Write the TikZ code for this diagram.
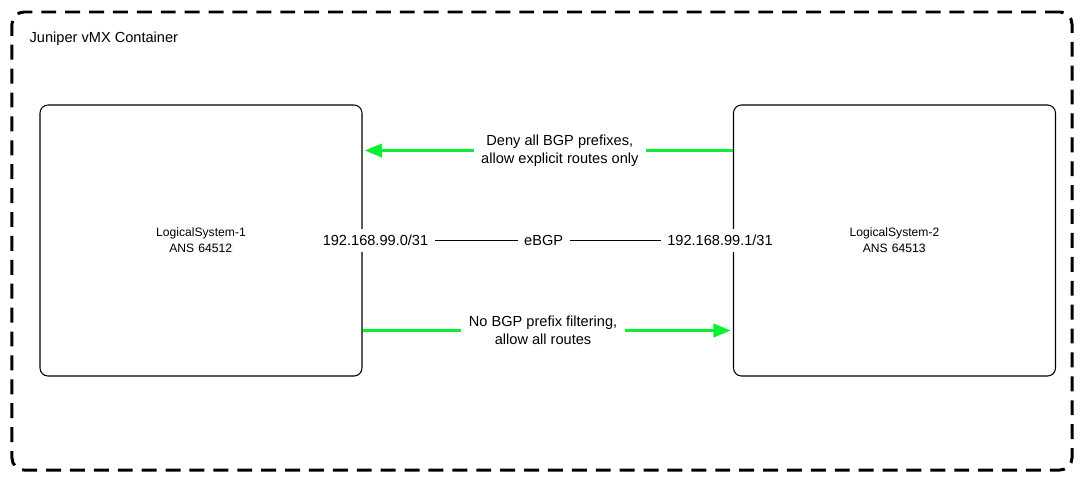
\documentclass[tikz,border=0pt]{standalone}
\usepackage{fontspec}
\setmainfont{Liberation Sans}
\usepackage{tikz}
\usetikzlibrary{arrows.meta, positioning, calc}
\usepackage{xcolor}
\definecolor{routegreen}{RGB}{10,240,50}
\definecolor{numshade}{RGB}{242,244,248}

\tikzset{
  container/.style={draw, line width=1.7pt, dash pattern=on 8.5pt off 5.1pt, rounded corners=0.24cm},
  sysbox/.style={draw, line width=0.6pt, rounded corners=0.16cm, minimum width=6.44cm, minimum height=5.42cm, align=center, font=\fontsize{6.9}{9}\selectfont},
  policy/.style={->, >={Triangle[length=10pt,width=7.5pt]}, line width=1.9pt, routegreen},
  policytext/.style={fill=white, text=black, align=center, inner xsep=0.15cm, font=\fontsize{8.3}{10.2}\selectfont},
  peerlabel/.style={fill=white, inner xsep=0.13cm, font=\fontsize{8.3}{10.2}\selectfont}
}
\newcommand{\asnum}[1]{{\setlength{\fboxsep}{0.4pt}\colorbox{numshade}{#1}}}

\begin{document}
\begin{tikzpicture}[x=0.2mm, y=-0.2mm]
  \useasboundingbox (0,0) rectangle (1085,482);
  % outer container
  \node[container, minimum width=21.2cm, minimum height=9.16cm] (vmx) at (542,241) {};
  \node[anchor=west, font=\fontsize{8.3}{10.2}\selectfont] (title) at ([xshift=0.26cm, yshift=-0.56cm]vmx.north west) {Juniper vMX Container};
  % logical systems
  \node[sysbox] (ls1) at (201,240.5) {LogicalSystem-1\\ANS \asnum{64512}};
  \node[sysbox] (ls2) at (894.5,240.5) {LogicalSystem-2\\ANS \asnum{64513}};
  % eBGP session
  \draw[line width=0.6pt] (ls1.east) -- (ls2.west)
    node[peerlabel, pos=0.035] {192.168.99.0/31}
    node[peerlabel, pos=0.489] {eBGP}
    node[peerlabel, pos=0.965] {192.168.99.1/31};
  % route policies
  \draw[policy] ([yshift=1.8cm]ls2.west) -- ([yshift=1.8cm, xshift=0.04cm]ls1.east)
    node[policytext, pos=0.47] {Deny all BGP prefixes,\\allow explicit routes only};
  \draw[policy] ([yshift=-1.8cm]ls1.east) -- ([yshift=-1.8cm, xshift=-0.04cm]ls2.west)
    node[policytext, pos=0.49] {No BGP prefix filtering,\\allow all routes};
\end{tikzpicture}
\end{document}
